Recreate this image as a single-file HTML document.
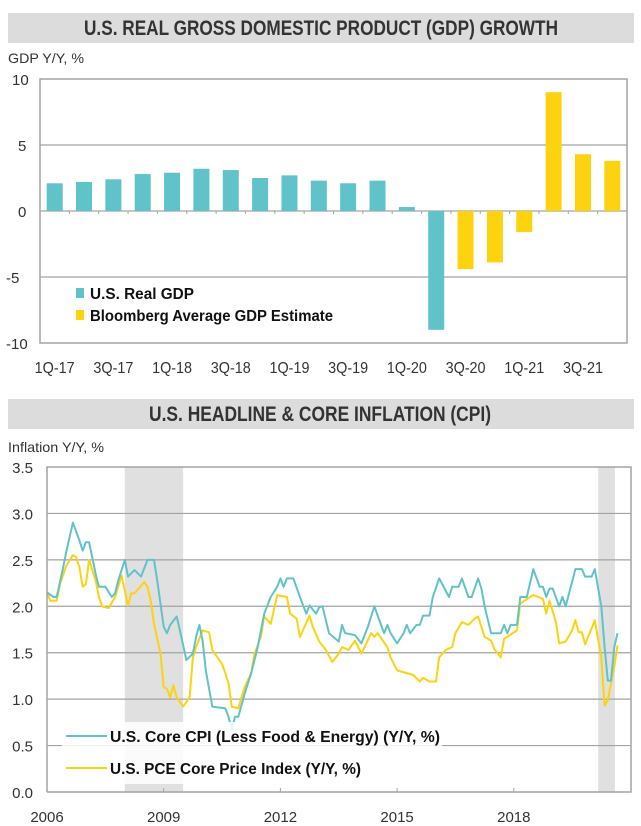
<!DOCTYPE html>
<html><head><meta charset="utf-8"><style>
html,body{margin:0;padding:0;background:#fff;}
svg{display:block;font-family:"Liberation Sans",sans-serif;}
</style></head><body>
<svg id="svg" width="641" height="826" viewBox="0 0 641 826" xmlns="http://www.w3.org/2000/svg">
<g id="gdp"></g>
<g id="inf"></g>
</svg>
<script>
// ---- GDP chart data ----
const gdpCategories = ["1Q-17","2Q-17","3Q-17","4Q-17","1Q-18","2Q-18","3Q-18","4Q-18","1Q-19","2Q-19","3Q-19","4Q-19","1Q-20","2Q-20","3Q-20","4Q-20","1Q-21","2Q-21","3Q-21","4Q-21"];
const gdpActual = [2.1,2.2,2.4,2.8,2.9,3.2,3.1,2.5,2.7,2.3,2.1,2.3,0.3,-9.0,null,null,null,null,null,null];
const gdpEstimate = [null,null,null,null,null,null,null,null,null,null,null,null,null,null,-4.4,-3.9,-1.6,9.0,4.3,3.8];
const gdpYTicks = [10,5,0,-5,-10];

// ---- Inflation chart data (month index from Jan 2006, value %) ----
const cpiMonths = [0,2,3,5,6,8,10,11,12,13,15,16,18,20,21,22,24,25,27,29,31,33,34,36,37,38,40,41,43,45,46,47,48,49,51,55,56,57,58,59,61,63,65,67,69,71,72,73,74,76,78,80,81,83,84,85,87,90,91,92,95,97,99,101,102,104,105,106,108,110,111,112,114,115,116,118,119,121,124,125,127,128,130,131,133,134,135,137,140,141,142,143,145,146,148,150,152,153,154,155,156,158,159,160,163,165,166,168,169,171,172,173,174,175,176];
const cpiValues = [2.15,2.1,2.1,2.42,2.6,2.9,2.71,2.6,2.69,2.69,2.35,2.21,2.21,2.1,2.14,2.28,2.5,2.32,2.39,2.32,2.5,2.5,2.28,1.78,1.71,1.8,1.89,1.74,1.42,1.49,1.67,1.8,1.63,1.31,0.92,0.9,0.81,0.67,0.81,0.81,1.06,1.28,1.56,1.92,2.1,2.21,2.3,2.21,2.3,2.3,2.1,1.92,2.01,1.92,1.99,2.0,1.71,1.62,1.8,1.71,1.69,1.6,1.78,2.0,1.9,1.71,1.8,1.71,1.6,1.71,1.8,1.71,1.8,1.8,1.9,1.9,2.1,2.3,2.1,2.21,2.21,2.3,2.1,2.1,2.3,2.19,2.0,1.71,1.71,1.8,1.71,1.8,1.8,2.1,2.1,2.4,2.21,2.21,2.1,2.19,2.19,2.0,2.1,2.0,2.4,2.4,2.32,2.32,2.4,2.0,1.56,1.2,1.2,1.56,1.71];
const pceMonths = [0,1,3,4,6,8,9,10,11,12,13,15,16,17,19,21,23,25,26,27,30,31,32,33,35,36,37,38,39,40,42,44,45,46,48,50,51,54,55,56,57,59,60,61,63,64,66,67,69,70,71,74,75,77,78,81,82,84,86,88,90,91,93,95,97,100,101,102,105,106,108,111,113,115,116,118,120,121,123,125,126,128,130,132,133,135,137,138,140,141,145,146,149,150,153,154,155,157,158,160,162,163,164,165,166,169,171,172,173,175,176];
const pceValues = [2.15,2.06,2.06,2.24,2.44,2.55,2.53,2.42,2.21,2.24,2.5,2.28,2.1,2.0,1.98,2.1,2.33,2.01,2.14,2.14,2.26,2.21,2.06,1.81,1.49,1.13,1.11,1.02,1.15,1.02,0.92,1.02,1.45,1.56,1.74,1.72,1.53,1.38,1.28,1.17,0.92,0.9,1.02,1.13,1.28,1.49,1.67,1.89,1.81,1.96,2.12,2.1,1.92,1.87,1.67,1.9,1.78,1.62,1.53,1.4,1.49,1.56,1.53,1.63,1.49,1.71,1.67,1.71,1.56,1.45,1.31,1.28,1.26,1.19,1.23,1.19,1.19,1.45,1.53,1.56,1.71,1.83,1.8,1.87,1.89,1.67,1.63,1.54,1.45,1.65,1.74,2.03,2.1,2.12,2.08,1.92,2.06,1.83,1.6,1.62,1.74,1.85,1.72,1.72,1.59,1.85,1.45,0.93,0.99,1.35,1.58];
const infYTicks = [3.5,3.0,2.5,2.0,1.5,1.0,0.5,0.0];
const infXTickYears = [2006,2009,2012,2015,2018];
const recessionStart = [2008.0,2020.17];
const recessionEnd = [2009.5,2020.6];

const NS="http://www.w3.org/2000/svg";
function mk(parent,tag,attrs,text){const e=document.createElementNS(NS,tag);for(const k in attrs)e.setAttribute(k,attrs[k]);if(text!==undefined)e.textContent=text;parent.appendChild(e);return e;}
const TEAL="#5fc3c9", YEL="#fdd20f", GRID="#a3a3a3", TXT="#333";

// ===== GDP =====
const g=document.getElementById('gdp');
let e=mk(g,'rect',{x:8,y:13,width:626,height:30,fill:'#dcdcdc'});


e=mk(g,'text',{x:321,y:35,'text-anchor':'middle','font-size':21,'font-weight':'bold',fill:'#333',textLength:474,lengthAdjust:'spacingAndGlyphs'},'U.S. REAL GROSS DOMESTIC PRODUCT (GDP) GROWTH');


e=mk(g,'text',{x:8,y:63,'font-size':14,fill:TXT,textLength:76,lengthAdjust:'spacingAndGlyphs'},'GDP Y/Y, %');


const gL=40,gR=627,gT=79,gB=343,gMax=10,gMin=-10;
const gy=v=>gT+(gMax-v)/(gMax-gMin)*(gB-gT);
const slot=(gR-gL)/gdpCategories.length;
const gx=i=>gL+slot*(i+0.5);
gdpYTicks.forEach(t=>{
  if(t!==10&&t!==-10){const l=mk(g,'line',{x1:gL,x2:gR,y1:gy(t),y2:gy(t),stroke:GRID,'stroke-width':1.2});
  
  }
  const tx=mk(g,'text',{x:t<0?6:(t===10?12:18),y:gy(t)+6,'font-size':15,fill:TXT},String(t));
  
  
});
e=mk(g,'rect',{x:gL,y:gT,width:gR-gL,height:gB-gT,fill:'none',stroke:GRID,'stroke-width':1.5});


function bars(arr,color,name){arr.forEach((v,i)=>{if(v===null)return;const y0=gy(0),y1=gy(v);
  const r=mk(g,'rect',{x:gx(i)-8,y:Math.min(y0,y1),width:16,height:Math.abs(y1-y0),fill:color});
  
  });}
bars(gdpActual,TEAL,'bar-real-gdp');
bars(gdpEstimate,YEL,'bar-estimate');
for(let i=1;i<gdpCategories.length;i++){const t=mk(g,'line',{x1:gL+slot*i,x2:gL+slot*i,y1:gy(0),y2:gy(0)+3,stroke:GRID});
  
  }
gdpCategories.forEach((c,i)=>{if(i%2)return;const t=mk(g,'text',{x:gx(i),y:373,'text-anchor':'middle','font-size':16,fill:TXT,textLength:40,lengthAdjust:'spacingAndGlyphs'},c);
  
  });
[[TEAL,'U.S. Real GDP',293,104,'legend-entry-real-gdp'],[YEL,'Bloomberg Average GDP Estimate',315,243,'legend-entry-estimate']].forEach(a=>{
  const s=mk(g,'rect',{x:76,y:a[2]-5,width:8,height:10,fill:a[0]});
  
  
  const t=mk(g,'text',{x:90,y:a[2]+6,'font-size':16,'font-weight':'bold',fill:'#111',textLength:a[3],lengthAdjust:'spacingAndGlyphs'},a[1]);
  
  
});

// ===== Inflation =====
const h=document.getElementById('inf');
e=mk(h,'rect',{x:8,y:399,width:626,height:30,fill:'#dcdcdc'});


e=mk(h,'text',{x:320,y:421,'text-anchor':'middle','font-size':21,'font-weight':'bold',fill:'#333',textLength:342,lengthAdjust:'spacingAndGlyphs'},'U.S. HEADLINE & CORE INFLATION (CPI)');


e=mk(h,'text',{x:8,y:452,'font-size':14,fill:TXT,textLength:96,lengthAdjust:'spacingAndGlyphs'},'Inflation Y/Y, %');


const iL=47,iR=631,iT=467,iB=792,iMax=3.5,iMin=0,pxYear=38.9;
const iy=v=>iT+(iMax-v)/(iMax-iMin)*(iB-iT);
const ixY=yr=>iL+(yr-2006)*pxYear;
const ixM=m=>ixY(2006+m/12);
recessionStart.forEach((s,i)=>{const r=mk(h,'rect',{x:ixY(s),y:iT,width:ixY(recessionEnd[i])-ixY(s),height:iB-iT,fill:'#e0e0e0'});
  
  });
infYTicks.forEach(t=>{
  if(t!==3.5&&t!==0){const l=mk(h,'line',{x1:iL,x2:iR,y1:iy(t),y2:iy(t),stroke:GRID,'stroke-width':1.2});
  
  }
  const tx=mk(h,'text',{x:33,y:iy(t)+6,'text-anchor':'end','font-size':15,fill:TXT},t.toFixed(1));
  
  
});
function line(ms,vs,color,name){const d=ms.map((m,i)=>(i?'L':'M')+ixM(m).toFixed(1)+','+iy(vs[i]).toFixed(1)).join('');
  const p=mk(h,'path',{d:d,fill:'none',stroke:color,'stroke-width':2,'stroke-linejoin':'round'});
  
  }
line(pceMonths,pceValues,YEL,'pce-core-line');
line(cpiMonths,cpiValues,TEAL,'core-cpi-line');
e=mk(h,'rect',{x:62,y:722,width:380,height:62,fill:'#fff',opacity:0.85});


e=mk(h,'path',{d:`M${iL},${iB}L${iL},${iT}L${iR},${iT}L${iR},${iB}L${iL},${iB}`,fill:'none',stroke:GRID,'stroke-width':1.5});


infXTickYears.forEach(yr=>{const x=ixY(yr);
  const t=mk(h,'line',{x1:x,x2:x,y1:iB,y2:iB-4,stroke:GRID});
  
  
  const tx=mk(h,'text',{x:x,y:822,'text-anchor':'middle','font-size':15,fill:TXT},String(yr));
  
  });
[[TEAL,'U.S. Core CPI (Less Food & Energy) (Y/Y, %)',736,330,'legend-entry-core-cpi'],[YEL,'U.S. PCE Core Price Index (Y/Y, %)',768,251,'legend-entry-pce']].forEach(a=>{
  const s=mk(h,'line',{x1:66,x2:107,y1:a[2],y2:a[2],stroke:a[0],'stroke-width':2});
  
  
  const t=mk(h,'text',{x:110,y:a[2]+6,'font-size':16,'font-weight':'bold',fill:'#111',textLength:a[3],lengthAdjust:'spacingAndGlyphs'},a[1]);
  
  
});
</script>
</body></html>
